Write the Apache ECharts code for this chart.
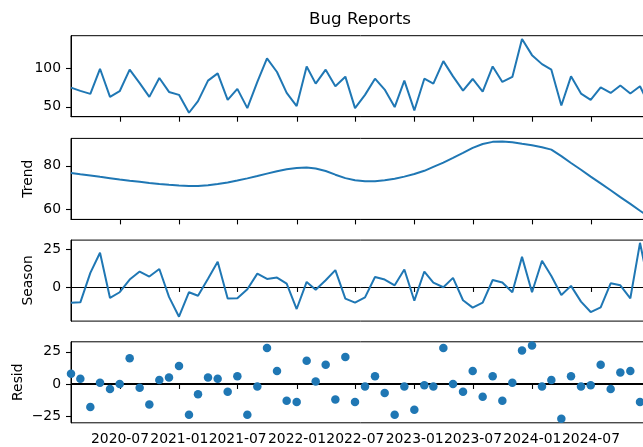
<!DOCTYPE html>
<html><head><meta charset="utf-8">
<script src="https://cdn.jsdelivr.net/npm/echarts@6/dist/echarts.min.js"></script>
<style>html,body{margin:0;padding:0;background:#fff;overflow:hidden;width:643px;height:447px}#c{width:660px;height:447px}</style>
</head><body><div id="c"></div>
<script>
// ---- data ----
const startYear = 2020, startMonth = 1, nMonths = 60; // month-end dates from Jan 2020
const observed = [74.8,70.5,66.7,99.1,62.8,70.1,97.9,80.5,62.8,87.2,
  69.2,65.4,42.3,57.3,83.8,93.2,59.0,73.1,48.3,82.1,
  112.4,94.9,67.9,50.9,102.1,79.9,97.9,76.5,88.9,48.3,
  65.4,86.3,72.2,49.6,83.8,45.3,86.3,79.9,109.0,89.3,
  70.9,85.9,69.7,102.1,82.1,88.5,137.6,116.7,105.1,97.9,
  51.7,89.3,67.1,59.0,75.2,67.9,77.4,67.1,76.5,50.0];
const trend = [76.7,76.1,75.5,74.9,74.3,73.7,73.1,72.6,72.1,71.6,
  71.2,70.9,70.7,70.7,71.0,71.6,72.3,73.2,74.2,75.3,
  76.4,77.5,78.4,79.0,79.2,78.8,77.6,75.9,74.3,73.3,
  72.9,72.9,73.3,74.0,75.0,76.2,77.7,79.5,81.5,83.7,
  86.0,88.3,90.1,91.1,91.3,90.9,90.2,89.5,88.6,87.5,
  84.5,81.3,78.2,75.0,71.9,68.7,65.5,62.4,59.2,56.1];
const season = [-10.4,-10.2,9.3,22.6,-7.3,-3.5,4.9,10.2,6.9,11.9,
  -6.6,-19.7,-3.5,-5.8,5.5,16.6,-7.7,-7.5,-1.5,8.8,
  5.3,6.2,2.2,-14.6,3.3,-1.8,4.4,11.1,-7.7,-10.4,
  -6.9,6.6,4.9,1.1,11.5,-9.1,10.2,2.9,-0.2,6.0,
  -8.8,-13.7,-10.4,4.6,2.9,-3.5,19.9,-3.5,17.3,7.3,
  -5.3,0.7,-9.7,-16.6,-13.5,2.4,1.1,-7.5,29.2,-3.0];
const resid = [8,4,-18,1,-4,0,20,-3,-16,3,
  5,14,-24,-8,5,4,-6,6,-24,-2,
  28,10,-13,-14,18,2,15,-12,21,-14,
  -2,6,-7,-24,-2,-20,-1,-2,28,0,
  -6,10,-10,6,-13,1,26,30,-2,3,
  -27,6,-2,-1,15,-4,9,10,-14,-5];
const xTickLabels = ['2020-07','2021-01','2021-07','2022-01','2022-07','2023-01','2023-07','2024-01','2024-07'];
const yTicksObs = [50,100];
const yTicksTrend = [60,80];
const yTicksSeason = [0,25];
const yTicksResid = [-25,0,25];
const yLimits = [[37.2,141.8],[55.2,92.7],[-22.6,31.0],[-30.2,32.8]];
const panelNames = ['', 'Trend', 'Season', 'Resid'];

// ---- build ----
const dates = [];
for (let i = 0; i < nMonths; i++) dates.push(Date.UTC(startYear, startMonth - 1 + i + 1, 0));
const xTicks = xTickLabels.map(s => { const [y,m] = s.split('-').map(Number); return Date.UTC(y, m-1, 1); });
const xmin = dates[0], xmax = dates[dates.length-1];
const pair = arr => arr.map((v,i) => [dates[i], v]);

const FONT = 'DejaVu Sans';
const BLUE = '#1f77b4';
const tops = [35.7, 138.4, 240.1, 341.8];
const H = 81;
const grids = tops.map(t => ({left:71, width:579, top:t, height:H, show:true, borderColor:'#000', borderWidth:1, backgroundColor:'#fff'}));

const fmtX = v => { const d = new Date(v); return d.getUTCFullYear() + '-' + String(d.getUTCMonth()+1).padStart(2,'0'); };
const xAxes = tops.map((t,i) => ({
  type:'value', gridIndex:i, min:xmin, max:xmax,
  axisLine:{show:true, lineStyle:{color:'#000', width:1}},
  axisTick:{show:true, customValues:xTicks, length:5, lineStyle:{color:'#000', width:1.1}},
  axisLabel:{show:i===3, customValues:xTicks, formatter:fmtX, margin:10, fontFamily:FONT, fontSize:13.9, color:'#000', hideOverlap:false},
  splitLine:{show:false}
}));
const yt = [yTicksObs, yTicksTrend, yTicksSeason, yTicksResid];
const fmtY = v => v < 0 ? '\u2212' + Math.abs(v) : String(v);
const yAxes = tops.map((t,i) => ({
  type:'value', gridIndex:i, min:yLimits[i][0], max:yLimits[i][1],
  axisLine:{show:true, lineStyle:{color:'#000', width:1}},
  axisTick:{show:true, customValues:yt[i], length:5, lineStyle:{color:'#000', width:1.1}},
  axisLabel:{show:true, customValues:yt[i], formatter:fmtY, margin:10, fontFamily:FONT, fontSize:13.9, color:'#000'},
  splitLine:{show:false}
}));

const lineSeries = (arr, i) => ({
  type:'line', xAxisIndex:i, yAxisIndex:i, data:pair(arr), showSymbol:false, symbol:'none',
  lineStyle:{color:BLUE, width:2}, z:3, clip:true
});
const series = [
  lineSeries(observed, 0), lineSeries(trend, 1), lineSeries(season, 2),
  {type:'line', xAxisIndex:3, yAxisIndex:3, data:[[xmin,0],[xmax,0]], showSymbol:false, symbol:'none',
   lineStyle:{color:'#000', width:2}, z:2},
  {type:'scatter', xAxisIndex:3, yAxisIndex:3, data:pair(resid), symbolSize:8.5,
   itemStyle:{color:BLUE, opacity:1}, z:3}
];

const graphics = [
  {type:'text', x:360, y:20, style:{text:'Bug Reports', font:'16.7px "DejaVu Sans"', fill:'#000', textAlign:'center', textVerticalAlign:'middle'}},
  {type:'text', x:27.9, y:178.7, rotation:Math.PI/2, style:{text:panelNames[1], font:'13.9px "DejaVu Sans"', fill:'#000', textAlign:'center', textVerticalAlign:'middle'}},
  {type:'text', x:27.9, y:280.4, rotation:Math.PI/2, style:{text:panelNames[2], font:'13.9px "DejaVu Sans"', fill:'#000', textAlign:'center', textVerticalAlign:'middle'}},
  {type:'text', x:18.4, y:382.2, rotation:Math.PI/2, style:{text:panelNames[3], font:'13.9px "DejaVu Sans"', fill:'#000', textAlign:'center', textVerticalAlign:'middle'}}
];

const chart = echarts.init(document.getElementById('c'), null, {renderer:'canvas'});
chart.setOption({
  animation:false, backgroundColor:'#fff',
  grid:grids, xAxis:xAxes, yAxis:yAxes, series:series, graphic:graphics
});
</script></body></html>
